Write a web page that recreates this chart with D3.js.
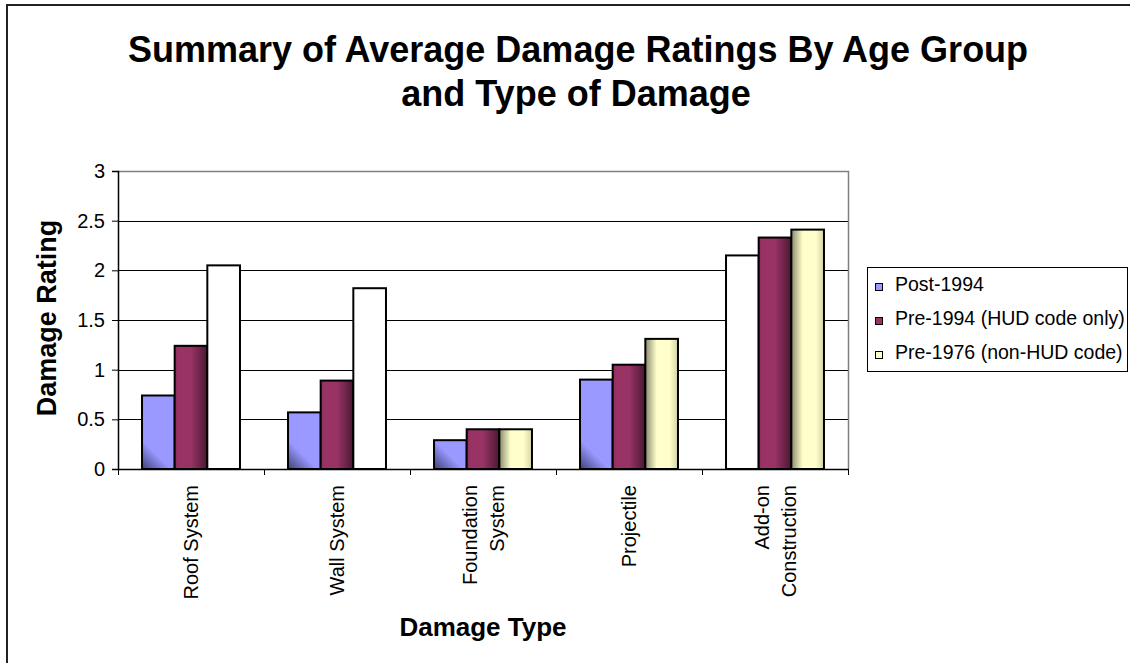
<!DOCTYPE html>
<html>
<head>
<meta charset="utf-8">
<script src="https://cdn.jsdelivr.net/npm/d3@7"></script>
<style>
  html, body { margin: 0; padding: 0; background: #fff; }
  svg { display: block; font-family: "Liberation Sans", Arial, sans-serif; }
</style>
</head>
<body>
<svg id="chart" width="1130" height="663"></svg>
<script>
// Damage types (multi-line labels split on "\n")
const categories = ["Roof System", "Wall System", "Foundation\nSystem", "Projectile", "Add-on\nConstruction"];
// Age groups
const seriesNames = ["Post-1994", "Pre-1994 (HUD code only)", "Pre-1976 (non-HUD code)"];
// Average damage rating per damage type, one array per age group
const post1994 = [0.74, 0.57, 0.29, 0.90, 2.15];
const pre1994 = [1.24, 0.89, 0.40, 1.05, 2.33];
const pre1976 = [2.05, 1.82, 0.40, 1.31, 2.41];
const yTicks = [0, 0.5, 1, 1.5, 2, 2.5, 3];

const seriesValues = [post1994, pre1994, pre1976];
// Points drawn without a fill: [series index, category index]
const unfilledPoints = [[2, 0], [2, 1], [0, 4]];

const svg = d3.select("#chart");
const plot = { left: 118, right: 848, top: 171, bottom: 469 };

const x = d3.scaleBand().domain(d3.range(categories.length))
  .range([plot.left, plot.right]).paddingInner(0.329).paddingOuter(0.1645);
const xs = d3.scaleBand().domain(d3.range(seriesNames.length))
  .range([0, x.bandwidth()]);
const y = d3.scaleLinear().domain([0, 3]).range([plot.bottom, plot.top]);

const baseColors = ["#9999FF", "#993366", "#FFFFCC"];
const defs = svg.append("defs");

// Outer chart frame
svg.append("rect").attr("x", 7).attr("y", 5).attr("width", 1140).attr("height", 680)
  .attr("fill", "none").attr("stroke", "#222").attr("stroke-width", 2);

// Title
const title = svg.append("text").attr("text-anchor", "middle")
  .attr("font-size", 36).attr("font-weight", "bold").attr("fill", "#000");
title.append("tspan").attr("x", 578).attr("y", 62).text("Summary of Average Damage Ratings By Age Group");
title.append("tspan").attr("x", 576).attr("y", 106).text("and Type of Damage");

// Gridlines
svg.append("g").selectAll("line").data(yTicks.filter(t => t > 0 && t < 3)).join("line")
  .attr("x1", plot.left).attr("x2", plot.right)
  .attr("y1", d => Math.round(y(d)) + 0.5).attr("y2", d => Math.round(y(d)) + 0.5)
  .attr("stroke", "#000").attr("stroke-width", 1);

// Plot frame: top and right in grey
svg.append("path")
  .attr("d", `M${plot.left},${plot.top + 0.5}H${plot.right + 0.5}V${plot.bottom}`)
  .attr("fill", "none").attr("stroke", "#808080").attr("stroke-width", 1.5);

// Bars
const barData = [];
seriesValues.forEach((vals, s) => vals.forEach((v, c) => barData.push({ s, c, v })));
const isUnfilled = d => unfilledPoints.some(p => p[0] === d.s && p[1] === d.c);

barData.forEach((d, i) => {
  const bx = x(d.c) + xs(d.s), bw = xs.bandwidth();
  const by = y(d.v), bh = y(0) - y(d.v);
  d.x = bx; d.y = by; d.w = bw; d.h = bh;
  if (isUnfilled(d)) { d.fill = "#fff"; return; }
  const id = "g" + i;
  const g = defs.append("linearGradient").attr("id", id).attr("gradientUnits", "userSpaceOnUse");
  if (d.s === 0) {
    g.attr("x1", bx).attr("y1", by + bh).attr("x2", bx + bw * 0.75).attr("y2", by + bh - bw * 0.75);
    [[0, "#40407a"], [0.6, "#9999FF"], [1, "#9999FF"]].forEach(([o, c]) =>
      g.append("stop").attr("offset", o).attr("stop-color", c));
  } else if (d.s === 1) {
    g.attr("x1", bx).attr("y1", 0).attr("x2", bx + bw).attr("y2", 0);
    [[0, "#8a2d5b"], [0.12, "#993366"], [0.5, "#993366"], [1, "#4a1832"]].forEach(([o, c]) =>
      g.append("stop").attr("offset", o).attr("stop-color", c));
  } else {
    g.attr("x1", bx).attr("y1", 0).attr("x2", bx + bw).attr("y2", 0);
    [[0, "#8a8a6c"], [0.35, "#FFFFCC"], [0.75, "#FFFFCC"], [1, "#d2d2a6"]].forEach(([o, c]) =>
      g.append("stop").attr("offset", o).attr("stop-color", c));
  }
  d.fill = `url(#${id})`;
});

svg.append("g").selectAll("rect").data(barData).join("rect")
  .attr("x", d => d.x).attr("y", d => d.y).attr("width", d => d.w).attr("height", d => d.h)
  .attr("fill", d => d.fill).attr("stroke", "#000").attr("stroke-width", 2);

// Y axis
const yAxis = svg.append("g").attr("transform", `translate(${plot.left},0)`)
  .call(d3.axisLeft(y).tickValues(yTicks).tickFormat(d => String(d)).tickSize(6).tickPadding(7));
yAxis.select(".domain").attr("stroke", "#000").attr("stroke-width", 1.5);
yAxis.selectAll(".tick line").attr("stroke", "#000");
yAxis.selectAll("text").attr("font-size", 20).attr("fill", "#000")
  .attr("font-family", "'Liberation Sans', Arial, sans-serif");

// X axis with ticks at group boundaries
const xAxisG = svg.append("g");
xAxisG.append("line").attr("x1", plot.left).attr("x2", plot.right + 1)
  .attr("y1", plot.bottom + 0.5).attr("y2", plot.bottom + 0.5)
  .attr("stroke", "#000").attr("stroke-width", 1.5);
const step = x.step();
xAxisG.selectAll(".tk").data(d3.range(categories.length + 1)).join("line").attr("class", "tk")
  .attr("x1", i => Math.round(plot.left + i * step) + 0.5).attr("x2", i => Math.round(plot.left + i * step) + 0.5)
  .attr("y1", plot.bottom).attr("y2", plot.bottom + 6)
  .attr("stroke", "#000").attr("stroke-width", 1);

// Category labels, rotated
const lineGap = 27;
categories.forEach((cat, i) => {
  const lines = cat.split("\n");
  const cx = x(i) + x.bandwidth() / 2;
  const t = svg.append("text").attr("text-anchor", "end").attr("font-size", 20).attr("fill", "#000")
    .attr("transform", `translate(${cx},485) rotate(-90)`);
  lines.forEach((ln, k) => {
    const off = (k - (lines.length - 1) / 2) * lineGap + 7;
    t.append("tspan").attr("x", 0).attr("y", off).text(ln);
  });
});

// Axis titles
svg.append("text").attr("text-anchor", "middle").attr("font-size", 27).attr("font-weight", "bold")
  .attr("transform", "translate(56,318) rotate(-90)").text("Damage Rating");
svg.append("text").attr("text-anchor", "middle").attr("font-size", 26).attr("font-weight", "bold")
  .attr("x", 483).attr("y", 636).text("Damage Type");

// Legend
const legend = svg.append("g");
legend.append("rect").attr("x", 867.5).attr("y", 267.5).attr("width", 260).attr("height", 104)
  .attr("fill", "#fff").attr("stroke", "#000").attr("stroke-width", 1);
const rowY = [291, 325, 359];
seriesNames.forEach((name, i) => {
  legend.append("rect").attr("x", 875.5).attr("y", rowY[i] - 7.5).attr("width", 7).attr("height", 7)
    .attr("fill", baseColors[i]).attr("stroke", "#000").attr("stroke-width", 1);
  legend.append("text").attr("x", 895).attr("y", rowY[i]).attr("font-size", 19.5).attr("fill", "#000").text(name);
});
</script>
</body>
</html>
